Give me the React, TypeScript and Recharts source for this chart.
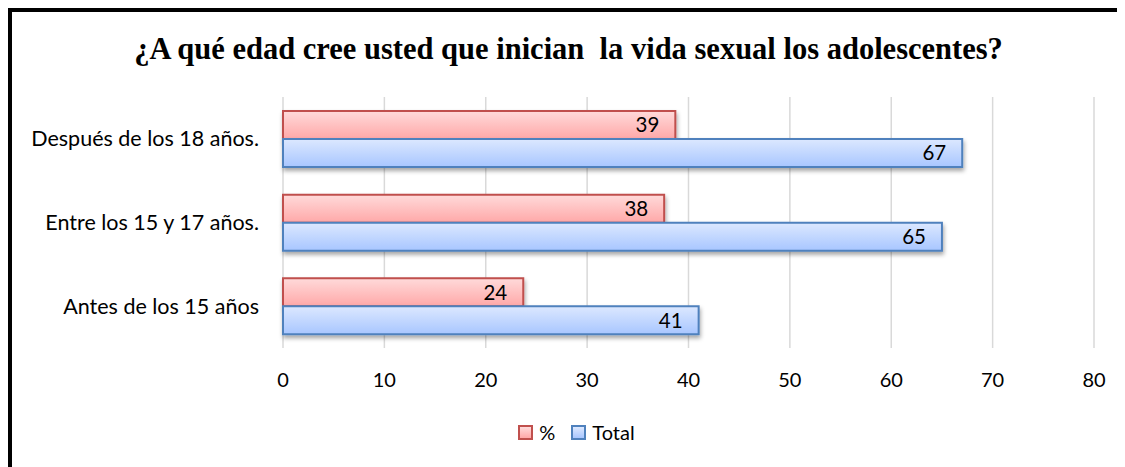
import React from 'react';
import { BarChart, Bar, XAxis, YAxis, CartesianGrid, Legend, LabelList } from 'recharts';

// answers, top to bottom as in the picture
const categories = ['Después de los 18 años.', 'Entre los 15 y 17 años.', 'Antes de los 15 años'];
const percentValues = [38.7, 37.6, 23.7];
const totalValues = [67, 65, 41];
const xTicks = [0, 10, 20, 30, 40, 50, 60, 70, 80];

const data = categories.map((name, i) => ({
    name,
    pct: percentValues[i],
    total: totalValues[i],
}));

const font = 'Lato, "Noto Sans", sans-serif';

// legend colours per series
const legendStyle: Record<string, { border: string; bg: string }> = {
    '%': { border: '#C0504D', bg: 'linear-gradient(#FFDADA, #FFA8A8)' },
    Total: { border: '#4F81BD', bg: 'linear-gradient(#DCE8FF, #A8C6FF)' },
};

const renderLegend = (props: any) => {
    const { payload = [] } = props;
    return (
        <div style={{ display: 'flex', justifyContent: 'center', gap: 16, fontFamily: font, fontSize: 20, color: '#000' }}>
            {payload.map((entry: any) => {
                const s = legendStyle[entry.value];
                return (
                    <div key={entry.value} style={{ display: 'flex', alignItems: 'center', gap: 6 }}>
                        <span style={{ display: 'inline-block', width: 11, height: 11, border: `2px solid ${s.border}`, background: s.bg }} />
                        <span>{entry.value}</span>
                    </div>
                );
            })}
        </div>
    );
};

export default function App() {
    return (
        <div
            style={{
                position: 'relative',
                width: 1117,
                height: 459,
                borderLeft: '4px solid #000',
                borderTop: '4px solid #000',
                boxSizing: 'border-box',
                background: '#fff',
            }}
        >
            <div
                style={{
                    position: 'absolute',
                    top: 20,
                    left: 0,
                    width: 1113,
                    textAlign: 'center',
                    fontFamily: '"Liberation Serif", "Times New Roman", serif',
                    fontWeight: 'bold',
                    fontSize: 30.5,
                    whiteSpace: 'pre',
                    color: '#000',
                }}
            >
                {'¿A qué edad cree usted que inician  la vida sexual los adolescentes?'}
            </div>
            <BarChart
                width={1113}
                height={455}
                layout="vertical"
                data={data}
                margin={{ top: 85, right: 31, left: 0, bottom: 79 }}
                barSize={28}
                barGap={0}
            >
                <defs>
                    <linearGradient id="redFill" x1="0" y1="0" x2="0" y2="1">
                        <stop offset="0%" stopColor="#FFDADA" />
                        <stop offset="100%" stopColor="#FFA8A8" />
                    </linearGradient>
                    <linearGradient id="blueFill" x1="0" y1="0" x2="0" y2="1">
                        <stop offset="0%" stopColor="#DCE8FF" />
                        <stop offset="100%" stopColor="#A8C6FF" />
                    </linearGradient>
                    <filter id="barShadow" x="-5%" y="-30%" width="110%" height="170%">
                        <feDropShadow dx="1" dy="3" stdDeviation="2" floodColor="#000" floodOpacity="0.35" />
                    </filter>
                </defs>
                <CartesianGrid horizontal={false} stroke="#D9D9D9" strokeWidth={1.5} />
                <XAxis
                    type="number"
                    domain={[0, 80]}
                    ticks={xTicks}
                    axisLine={false}
                    tickLine={false}
                    tickSize={0}
                    tickMargin={25}
                    height={40}
                    tick={{ fill: '#000', fontSize: 20, fontFamily: font }}
                />
                <YAxis
                    type="category"
                    dataKey="name"
                    width={271}
                    axisLine={false}
                    tickLine={false}
                    tickSize={0}
                    tickMargin={24}
                    tick={{ fill: '#000', fontSize: 21.5, fontFamily: font }}
                />
                <Legend
                    layout="horizontal"
                    verticalAlign="middle"
                    align="center"
                    wrapperStyle={{ top: 408, left: 8, width: 1113 }}
                    content={renderLegend}
                />
                <Bar dataKey="pct" name="%" fill="url(#redFill)" stroke="#C0504D" strokeWidth={2} filter="url(#barShadow)" isAnimationActive={false}>
                    <LabelList
                        dataKey="pct"
                        position="insideRight"
                        offset={16}
                        formatter={(v: any) => Math.round(Number(v))}
                        style={{ fill: '#000', fontSize: 20.5, fontFamily: font }}
                    />
                </Bar>
                <Bar dataKey="total" name="Total" fill="url(#blueFill)" stroke="#4F81BD" strokeWidth={2} filter="url(#barShadow)" isAnimationActive={false}>
                    <LabelList
                        dataKey="total"
                        position="insideRight"
                        offset={16}
                        style={{ fill: '#000', fontSize: 20.5, fontFamily: font }}
                    />
                </Bar>
            </BarChart>
        </div>
    );
}
